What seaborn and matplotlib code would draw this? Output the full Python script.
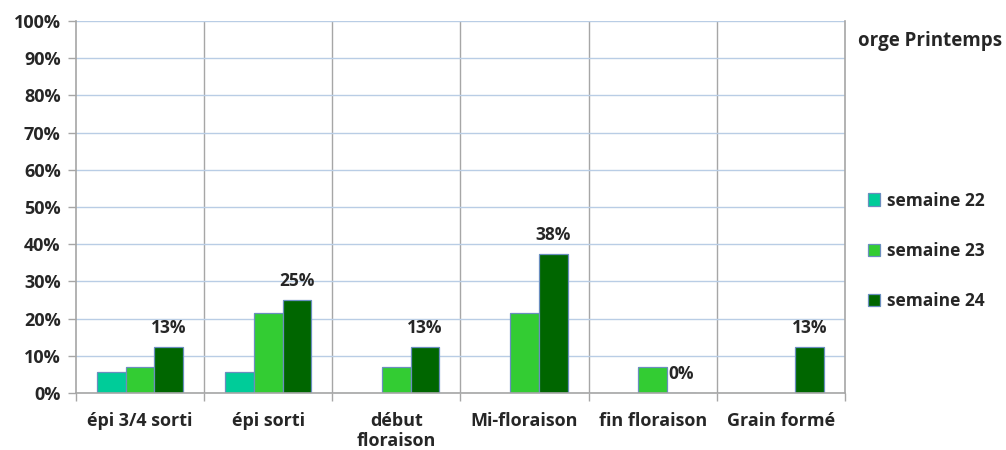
import numpy as np
import pandas as pd
import seaborn as sns
import matplotlib
matplotlib.use("Agg")
import matplotlib.pyplot as plt
from matplotlib.ticker import PercentFormatter, FixedLocator

# stades (categories)
stades = ["épi 3/4 sorti", "épi sorti", "début\nfloraison", "Mi-floraison",
          "fin floraison", "Grain formé"]
# share of fields per stage, one list per week (nan = no bar)
semaine_22 = [0.056, 0.056, np.nan, np.nan, np.nan, np.nan]
semaine_23 = [0.071, 0.214, 0.071, 0.214, 0.071, np.nan]
semaine_24 = [0.125, 0.25, 0.125, 0.375, 0.0, 0.125]
series_names = ["semaine 22", "semaine 23", "semaine 24"]
colors = ["#00CC99", "#33CC33", "#006600"]

df = pd.DataFrame({
    "stade": stades * 3,
    "semaine": [n for n in series_names for _ in stades],
    "valeur": semaine_22 + semaine_23 + semaine_24,
})

sns.set_theme(style="white")
plt.rcParams["font.family"] = ["Open Sans", "DejaVu Sans"]
plt.rcParams["font.weight"] = "bold"

fig = plt.figure(figsize=(10.06, 4.5), dpi=100)
ax = fig.add_axes([76 / 1006, 57 / 450, (845 - 76) / 1006, (393 - 21) / 450])

sns.barplot(data=df, x="stade", y="valeur", hue="semaine", order=stades,
            hue_order=series_names, palette=colors, saturation=1, width=0.67,
            gap=0, edgecolor="#6A8EBF", linewidth=0.9, ax=ax, legend=True,
            err_kws={"linewidth": 0})

# data labels only on the last week
labels = [f"{int(np.floor(v * 100 + 0.5))}%" for v in semaine_24]
ax.bar_label(ax.containers[2], labels=labels, padding=7,
             fontsize=12.5, fontweight="bold", color="#262626")

ax.set_ylim(0, 1)
ax.set_xlim(-0.5, len(stades) - 0.5)
ax.yaxis.set_major_locator(FixedLocator(np.arange(0, 1.01, 0.1)))
ax.yaxis.set_major_formatter(PercentFormatter(1.0, decimals=0))
ax.grid(axis="y", color="#B9CDE5", linewidth=1)
ax.set_axisbelow(True)

# category separators
for b in np.arange(0.5, len(stades) - 0.5, 1):
    ax.axvline(b, color="#A6A6A6", linewidth=1, zorder=0.5)
ax.xaxis.set_minor_locator(FixedLocator(np.arange(-0.5, len(stades), 1)))
ax.tick_params(axis="x", which="minor", length=6, color="#A6A6A6", width=1,
               direction="out", bottom=True)
ax.tick_params(axis="x", which="major", length=0, pad=14, labelsize=13,
               labelcolor="#262626")
ax.tick_params(axis="y", length=6, color="#A6A6A6", width=1, left=True,
               direction="out", labelsize=13, labelcolor="#262626", pad=5)
for lab in ax.get_xticklabels() + ax.get_yticklabels():
    lab.set_fontweight("bold")
    lab.set_linespacing(1.1)

for side in ["left", "bottom", "right"]:
    ax.spines[side].set_color("#A6A6A6")
    ax.spines[side].set_linewidth(1.2)
ax.spines["top"].set_visible(False)
ax.set_xlabel("")
ax.set_ylabel("")

handles, names = ax.get_legend_handles_labels()
ax.legend_.remove()
fig.legend(handles, names, loc="upper left", bbox_to_anchor=(852 / 1006, 1 - 176 / 450),
           frameon=False, labelspacing=1.85, handlelength=0.7, handleheight=0.7,
           handletextpad=0.4, prop={"size": 12.5, "weight": "bold"},
           labelcolor="#262626")

fig.text(858 / 1006, 1 - 41 / 450, "orge Printemps", fontsize=13.5,
         fontweight="bold", va="center", ha="left", color="#262626")

fig.savefig("out.png", dpi=100)
